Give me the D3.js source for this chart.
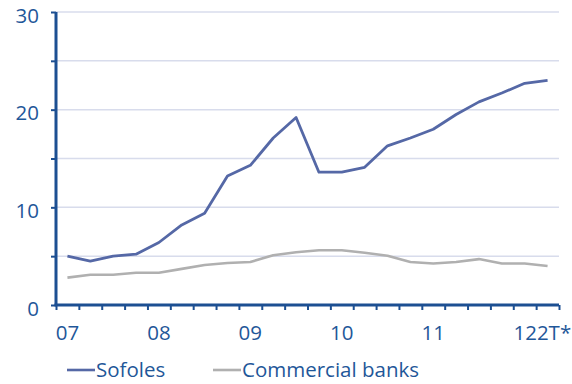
<!DOCTYPE html>
<html>
<head>
<meta charset="utf-8">
<script src="https://cdn.jsdelivr.net/npm/d3@7"></script>
<style>
  html, body { margin: 0; padding: 0; background: #fff; }
  svg { display: block; }
  text { font-family: "Open Sans", Lato, sans-serif; }
</style>
</head>
<body>
<svg id="chart" width="572" height="384"></svg>
<script>
// Quarterly periods, 2007 Q1 to 2012 Q2
const quarters = ["07T1","07T2","07T3","07T4","08T1","08T2","08T3","08T4",
                  "09T1","09T2","09T3","09T4","10T1","10T2","10T3","10T4",
                  "11T1","11T2","11T3","11T4","12T1","12T2"];
const sofoles = [5.0, 4.5, 5.0, 5.2, 6.4, 8.2, 9.4, 13.2, 14.3, 17.1, 19.2, 13.6,
                 13.6, 14.1, 16.3, 17.1, 18.0, 19.5, 20.8, 21.7, 22.7, 23.0];
const commercialBanks = [2.8, 3.1, 3.1, 3.3, 3.3, 3.7, 4.1, 4.3, 4.4, 5.1, 5.4, 5.6,
                         5.6, 5.35, 5.05, 4.4, 4.25, 4.4, 4.7, 4.25, 4.25, 4.0];
const xLabels = {"07T1": "07", "08T1": "08", "09T1": "09", "10T1": "10", "11T1": "11", "12T1": "122T*"};
const yTicks = [0, 5, 10, 15, 20, 25, 30];
const seriesNames = ["Sofoles", "Commercial banks"];

const colors = { sofoles: "#5568a6", banks: "#b0b0b0", axis: "#1c4f92", text: "#1f5799", grid: "#d8dcec" };
const fontSize = 20.5;

const svg = d3.select("#chart");
const plotLeft = 56, plotRight = 559, plotTop = 12, plotBottom = 305;

const x = d3.scaleBand().domain(quarters).range([plotLeft, plotRight]).padding(0);
const xEdge = d3.scaleLinear().domain([0, quarters.length]).range([plotLeft, plotRight]);
const y = d3.scaleLinear().domain([0, 30]).range([plotBottom, plotTop]);

// Horizontal grid lines
svg.append("g")
  .selectAll("line")
  .data(yTicks.filter(d => d > 0))
  .join("line")
  .attr("x1", plotLeft).attr("x2", plotRight)
  .attr("y1", d => y(d)).attr("y2", d => y(d))
  .attr("stroke", colors.grid).attr("stroke-width", 1.5);

// Y axis
const yAxis = svg.append("g")
  .attr("transform", `translate(${plotLeft},0)`)
  .call(d3.axisLeft(y).tickValues(yTicks).tickSize(5).tickPadding(12)
    .tickFormat(d => d % 10 === 0 ? d : ""));
yAxis.select(".domain").attr("stroke", colors.axis).attr("stroke-width", 3).attr("d", `M0,${plotTop}V${plotBottom}`);
yAxis.selectAll(".tick line").attr("stroke", colors.axis).attr("stroke-width", 2);
yAxis.selectAll(".tick text").attr("fill", colors.text).attr("font-size", fontSize).attr("dy", "0.5em");

// X axis: ticks on quarter boundaries
const xTickAxis = svg.append("g")
  .attr("transform", `translate(0,${plotBottom})`)
  .call(d3.axisBottom(xEdge).tickValues(d3.range(quarters.length + 1)).tickSize(5).tickFormat(""));
xTickAxis.select(".domain").attr("stroke", colors.axis).attr("stroke-width", 3).attr("d", `M${plotLeft - 1.5},0H${plotRight}`);
xTickAxis.selectAll(".tick line").attr("stroke", colors.axis).attr("stroke-width", 2);

// X axis labels at quarter centers
const xLabelAxis = svg.append("g")
  .attr("transform", `translate(0,${plotBottom})`)
  .call(d3.axisBottom(x).tickValues(Object.keys(xLabels)).tickSize(0).tickPadding(20)
    .tickFormat(d => xLabels[d]));
xLabelAxis.select(".domain").remove();
xLabelAxis.selectAll(".tick text").attr("fill", colors.text).attr("font-size", fontSize)
  .filter(d => d === "12T1").attr("text-anchor", "start").attr("dx", "-0.55em");

// Lines
const line = d3.line().x((d, i) => x(quarters[i]) + x.bandwidth() / 2).y(d => y(d));
svg.append("path").datum(commercialBanks)
  .attr("fill", "none").attr("stroke", colors.banks).attr("stroke-width", 2.6)
  .attr("stroke-linejoin", "round").attr("d", line);
svg.append("path").datum(sofoles)
  .attr("fill", "none").attr("stroke", colors.sofoles).attr("stroke-width", 2.8)
  .attr("stroke-linejoin", "round").attr("d", line);

// Legend
const legend = svg.append("g").attr("transform", "translate(67,370)");
const legendItems = [
  { name: seriesNames[0], color: colors.sofoles, offset: 0 },
  { name: seriesNames[1], color: colors.banks, offset: 146 }
];
const item = legend.selectAll("g").data(legendItems).join("g")
  .attr("transform", d => `translate(${d.offset},0)`);
item.append("line").attr("x1", 0).attr("x2", 28).attr("y1", 0).attr("y2", 0)
  .attr("stroke", d => d.color).attr("stroke-width", 2.6);
item.append("text").attr("x", 29).attr("y", 0).attr("dy", "0.36em")
  .attr("fill", colors.text).attr("font-size", fontSize).text(d => d.name);
</script>
</body>
</html>
